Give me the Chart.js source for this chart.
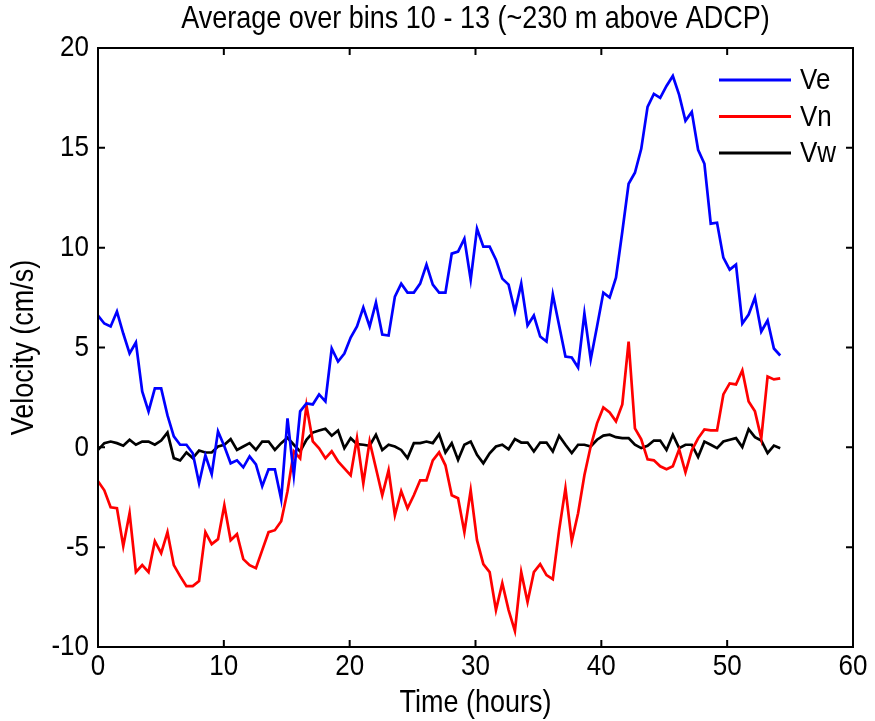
<!DOCTYPE html>
<html lang="en">
<head>
    <meta charset="UTF-8">
    <title>Average over bins 10 - 13</title>
    <script src="https://cdn.jsdelivr.net/npm/chart.js@4.4.1/dist/chart.umd.min.js"></script>
    <style>
        body { margin: 0; background: #fff; }
        #wrap { width: 875px; height: 721px; position: relative; }
    </style>
</head>
<body>
    <div id="wrap"><canvas id="velChart"></canvas></div>

    <script>
        // ensembles every ~0.5 h, first one at t = 0
        const sampleStep = 0.502;

        const ve = [
            6.6, 6.2, 6.05, 6.8, 5.7, 4.7, 5.25, 2.8, 1.8, 2.95,
            2.95, 1.6, 0.55, 0.13, 0.13, -0.3, -1.8, -0.4, -1.35, 0.8,
            0.05, -0.8, -0.65, -1.0, -0.45, -0.85, -1.95, -1.1, -1.1, -2.6,
            1.45, -1.4, 1.8, 2.2, 2.15, 2.65, 2.3, 4.95, 4.3, 4.7,
            5.5, 6.05, 7.0, 6.05, 7.25, 5.65, 5.6, 7.55, 8.2, 7.75,
            7.75, 8.2, 9.15, 8.15, 7.75, 7.75, 9.7, 9.8, 10.45, 8.4,
            10.95, 10.05, 10.05, 9.4, 8.45, 8.15, 6.8, 8.2, 6.1, 6.6,
            5.55, 5.3, 7.65, 6.1, 4.55, 4.5, 4.0, 6.7, 4.4, 6.05,
            7.75, 7.5, 8.5, 10.8, 13.2, 13.75, 14.95, 17.05, 17.7, 17.5,
            18.1, 18.6, 17.65, 16.35, 16.8, 14.9, 14.2, 11.2, 11.25, 9.5,
            8.9, 9.15, 6.2, 6.65, 7.5, 5.8, 6.35, 4.95, 4.6
        ];

        const vn = [
            -1.7, -2.15, -3.0, -3.05, -4.95, -3.3, -6.25, -5.9, -6.25, -4.7,
            -5.3, -4.25, -5.9, -6.45, -6.95, -6.95, -6.7, -4.25, -4.85, -4.6,
            -2.9, -4.65, -4.35, -5.6, -5.9, -6.05, -5.15, -4.25, -4.15, -3.7,
            -2.2, -0.2, -0.55, 2.1, 0.3, -0.05, -0.55, -0.2, -0.7, -1.05,
            -1.4, 0.45, -1.8, 0.3, -1.05, -2.4, -1.15, -3.4, -2.2, -3.05,
            -2.4, -1.65, -1.65, -0.65, -0.25, -0.9, -2.4, -2.55, -4.25, -2.15,
            -4.65, -5.85, -6.25, -8.15, -6.8, -8.15, -9.2, -6.25, -7.75, -6.25,
            -5.85, -6.4, -6.6, -4.15, -2.05, -4.7, -3.3, -1.4, 0.05, 1.2,
            2.0, 1.75, 1.3, 2.15, 5.3, 0.95, 0.4, -0.6, -0.65, -0.95,
            -1.1, -0.95, -0.1, -1.25, -0.15, 0.45, 0.9, 0.85, 0.85, 2.65,
            3.2, 3.15, 3.85, 2.3, 1.8, 0.45, 3.55, 3.4, 3.45
        ];

        const vw = [
            -0.13, 0.21, 0.29, 0.21, 0.08, 0.38, 0.13, 0.29, 0.29, 0.13,
            0.34, 0.74, -0.54, -0.66, -0.26, -0.54, -0.16, -0.26, -0.26, 0.04,
            0.13, 0.41, -0.13, 0.04, 0.21, -0.13, 0.29, 0.29, -0.13, 0.21,
            0.48, 0.13, -0.21, 0.38, 0.74, 0.84, 0.93, 0.58, 0.84, -0.04,
            0.46, 0.16, 0.13, 0.08, 0.63, -0.13, 0.13, 0.04, -0.13, -0.54,
            0.21, 0.21, 0.29, 0.21, 0.66, -0.26, 0.21, -0.63, 0.13, 0.29,
            -0.38, -0.8, -0.3, 0.04, 0.13, -0.1, 0.41, 0.24, 0.24, -0.21,
            0.24, 0.24, -0.21, 0.58, 0.13, -0.29, 0.13, 0.13, 0.04, 0.38,
            0.59, 0.63, 0.51, 0.46, 0.46, 0.13, -0.04, 0.08, 0.34, 0.34,
            -0.13, 0.63, -0.04, 0.13, 0.13, -0.49, 0.29, 0.13, -0.04, 0.29,
            0.38, 0.46, 0.01, 0.91, 0.51, 0.34, -0.29, 0.09, -0.04
        ];

        const seriesNames = ['Ve', 'Vn', 'Vw'];
        const seriesColors = ['#0000ff', '#ff0000', '#000000'];
        const xTicks = [0, 10, 20, 30, 40, 50, 60];
        const yTicks = [-10, -5, 0, 5, 10, 15, 20];

        const titleText = 'Average over bins 10 - 13 (~230 m above ADCP)';
        const xLabel = 'Time (hours)';
        const yLabel = 'Velocity (cm/s)';

        const FONT = '"Liberation Sans", Arial, Helvetica, sans-serif';
        const STRETCH = 1.17; // the original glyphs are a bit taller than Arial

        function toPoints(values) {
            return values.map((v, i) => ({ x: i * sampleStep, y: v }));
        }

        function drawText(ctx, text, x, y, size, align, angle) {
            ctx.save();
            ctx.translate(x, y);
            if (angle) ctx.rotate(angle);
            ctx.scale(1, STRETCH);
            ctx.font = size + 'px ' + FONT;
            ctx.textAlign = align;
            ctx.textBaseline = 'middle';
            ctx.fillText(text, 0, 0);
            ctx.restore();
        }

        // matlab-like box, inward ticks, labels and legend
        const matlabAxes = {
            id: 'matlabAxes',
            afterDraw(chart) {
                const ctx = chart.ctx;
                const a = chart.chartArea;
                const xs = chart.scales.x, ys = chart.scales.y;
                const tick = 7;

                ctx.save();
                ctx.strokeStyle = '#000';
                ctx.lineWidth = 2;
                ctx.strokeRect(a.left, a.top, a.right - a.left, a.bottom - a.top);

                ctx.beginPath();
                xTicks.forEach(t => {
                    const px = xs.getPixelForValue(t);
                    ctx.moveTo(px, a.bottom); ctx.lineTo(px, a.bottom - tick);
                    ctx.moveTo(px, a.top); ctx.lineTo(px, a.top + tick);
                });
                yTicks.forEach(t => {
                    const py = ys.getPixelForValue(t);
                    ctx.moveTo(a.left, py); ctx.lineTo(a.left + tick, py);
                    ctx.moveTo(a.right, py); ctx.lineTo(a.right - tick, py);
                });
                ctx.stroke();

                ctx.fillStyle = '#000';
                xTicks.forEach(t => {
                    drawText(ctx, String(t), xs.getPixelForValue(t), a.bottom + 20, 26, 'center');
                });
                yTicks.forEach(t => {
                    drawText(ctx, String(t), a.left - 9, ys.getPixelForValue(t), 26, 'right');
                });

                const cx = (a.left + a.right) / 2;
                drawText(ctx, titleText, cx, 19, 27, 'center');
                drawText(ctx, xLabel, cx, 703, 27, 'center');
                drawText(ctx, yLabel, 24, (a.top + a.bottom) / 2, 27, 'center', -Math.PI / 2);

                // legend, top right inside the axes
                ctx.lineWidth = 3;
                seriesNames.forEach((name, i) => {
                    const y = 80 + i * 36.5;
                    ctx.strokeStyle = seriesColors[i];
                    ctx.beginPath();
                    ctx.moveTo(719, y); ctx.lineTo(791, y);
                    ctx.stroke();
                    drawText(ctx, name, 800, y + 1, 26, 'left');
                });
                ctx.restore();
            }
        };

        const ctx = document.getElementById('velChart').getContext('2d');

        const velChart = new Chart(ctx, {
            type: 'line',
            data: {
                datasets: [ve, vn, vw].map((vals, i) => ({
                    label: seriesNames[i],
                    data: toPoints(vals),
                    borderColor: seriesColors[i],
                    backgroundColor: seriesColors[i],
                    borderWidth: 2.7,
                    pointRadius: 0,
                    tension: 0,
                    fill: false
                }))
            },
            options: {
                responsive: true,
                maintainAspectRatio: false,
                animation: false,
                layout: { padding: { top: 48, right: 22, left: 0, bottom: 0 } },
                plugins: {
                    legend: { display: false },
                    title: { display: false },
                    tooltip: { enabled: false }
                },
                scales: {
                    x: {
                        type: 'linear',
                        min: 0, max: 60,
                        grid: { display: false, drawTicks: false },
                        border: { display: false },
                        ticks: { stepSize: 10, display: false },
                        afterFit(scale) { scale.height = 74; }
                    },
                    y: {
                        min: -10, max: 20,
                        grid: { display: false, drawTicks: false },
                        border: { display: false },
                        ticks: { stepSize: 5, display: false },
                        afterFit(scale) { scale.width = 98; }
                    }
                }
            },
            plugins: [matlabAxes]
        });
    </script>
</body>
</html>
